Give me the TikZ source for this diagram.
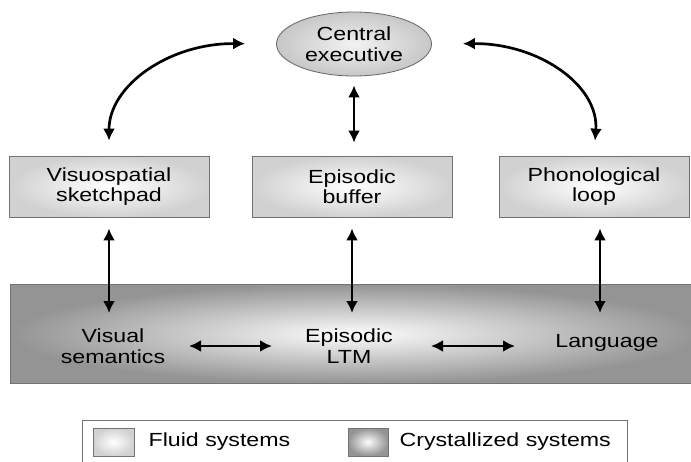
\documentclass[tikz,border=0pt]{standalone}
\usepackage{fontspec}
\setmainfont[FakeStretch=1.22]{Liberation Sans}
\usetikzlibrary{arrows.meta,shapes.geometric}
\begin{document}
\begin{tikzpicture}[x=1pt,y=-1pt,
  txt/.style={font=\fontsize{19}{20.5}\selectfont, align=center, inner sep=0pt},
  fluidbox/.style={draw=black!55, line width=0.8pt, inner color=white, outer color=black!18,
    minimum width=200pt, minimum height=61pt, txt},
  crystal/.style={draw=black!55, line width=0.8pt, inner color=black!1, outer color=black!42},
  fluidsq/.style={draw=black!55, line width=0.8pt, inner color=white, outer color=black!18,
    minimum width=41pt, minimum height=28pt, inner sep=0pt},
  crystsq/.style={crystal, minimum width=40pt, minimum height=28pt, inner sep=0pt},
  tip/.tip={Latex[length=12pt,width=12pt]},
  arr/.style={line width=2.7pt, tip-tip},
]
\useasboundingbox (0,0) rectangle (691,461);

% crystallized band
\node[crystal, anchor=north west, minimum width=690pt, minimum height=99pt, inner sep=0pt] (band) at (10,284) {};

% central executive
\node[draw=black!60, line width=0.8pt, ellipse, inner color=black!5, outer color=black!22,
  minimum width=155pt, minimum height=64pt, txt] (ce) at (354,44) {Central\\executive};

% fluid boxes
\node[fluidbox] (vsk) at (109,186.5) {Visuospatial\\sketchpad};
\node[fluidbox] (eb) at (352,186.5) {Episodic\\buffer};
\node[fluidbox, minimum width=190pt] (pl) at (594,186.5) {Phonological\\loop};

% band texts
\node[txt] (vs) at (113,346) {Visual\\semantics};
\node[txt] (el) at (349,346) {Episodic\\LTM};
\node[txt] (lang) at (607,343) {Language};

% arrows top
\draw[arr, shorten <=15pt, shorten >=31pt] (vsk.north) .. controls (109,85) and (170,43) .. (ce.west);
\draw[arr, shorten <=31pt, shorten >=15pt] (ce.east) .. controls (538,43) and (599,85) .. (pl.north);
\draw[arr, shorten <=9pt, shorten >=13pt] (ce.south) -- (ce.south |- eb.north);

% arrows to band
\draw[arr, shorten <=11pt] (vsk.south) -- ([yshift=-29pt]vsk.south |- band.north);
\draw[arr, shorten <=11pt] (eb.south) -- ([yshift=-29pt]eb.south |- band.north);
\draw[arr, shorten <=11pt] ([xshift=6pt]pl.south) -- ([xshift=6pt,yshift=-29pt]pl.south |- band.north);

% arrows within band
\draw[arr, shorten <=76pt, shorten >=77pt] (vs.center) -- (vs.center -| el.center);
\draw[arr, shorten <=82pt, shorten >=92pt] (el.center) -- (el.center -| lang.center);

% legend
\node[draw=black!55, line width=0.8pt, anchor=north west, minimum width=545pt, minimum height=60pt, inner sep=0pt] (leg) at (82,420) {};
\node[fluidsq] (fsq) at (113.5,442) {};
\node[crystsq] (csq) at (368,442) {};
\node[txt, anchor=west] (ft) at ([xshift=14pt]fsq.east) {Fluid systems};
\node[txt, anchor=west] (ct) at ([xshift=11pt]csq.east) {Crystallized systems};
\end{tikzpicture}
\end{document}
